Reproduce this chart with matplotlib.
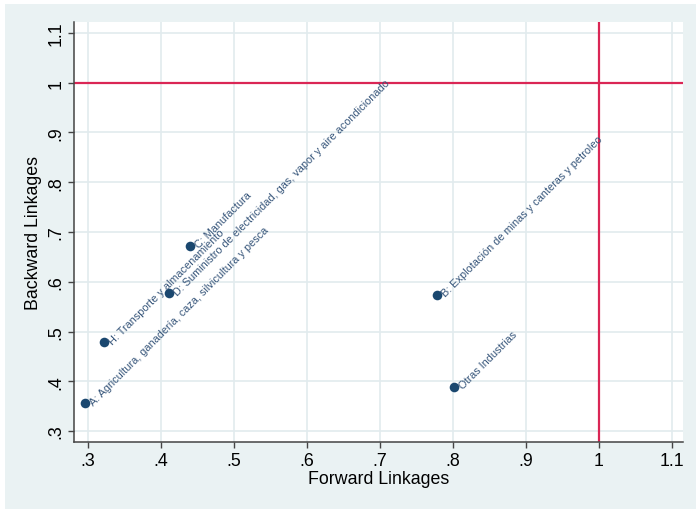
import matplotlib.pyplot as plt
from matplotlib.patches import Rectangle

plt.rcParams['font.family'] = ['Liberation Sans', 'DejaVu Sans']

# sectores: forward / backward linkages
sectores = [
    "A: Agricultura, ganadería, caza, silvicultura y pesca",
    "H: Transporte y almacenamiento",
    "D: Suministro de electricidad, gas, vapor y aire acondicionado",
    "C: Manufactura",
    "B: Explotación de minas y canteras y petroleo",
    "Otras Industrias",
]
forward = [0.296, 0.322, 0.411, 0.440, 0.778, 0.801]
backward = [0.356, 0.479, 0.577, 0.672, 0.574, 0.389]

xticks = [0.3, 0.4, 0.5, 0.6, 0.7, 0.8, 0.9, 1.0, 1.1]
xtick_labels = [".3", ".4", ".5", ".6", ".7", ".8", ".9", "1", "1.1"]
yticks = [0.3, 0.4, 0.5, 0.6, 0.7, 0.8, 0.9, 1.0, 1.1]
ytick_labels = [".3", ".4", ".5", ".6", ".7", ".8", ".9", "1", "1.1"]

fondo = "#EAF2F3"
azul = "#1A476F"
rojo = "#DA2655"

fig = plt.figure(figsize=(6.96, 5.10), dpi=100)
fig.patch.set_facecolor("white")
fig.patches.append(Rectangle((5 / 696, 0), 1, 1 - 5 / 510, transform=fig.transFigure,
                             facecolor=fondo, edgecolor="none", zorder=-10))

ax = fig.add_axes([74 / 696, 67 / 510, 609 / 696, 420 / 510])
ax.set_facecolor("white")

ax.set_xlim(0.281, 1.115)
ax.set_ylim(0.278, 1.122)

ax.grid(True, color="#E2EBEE", linewidth=1.2)
ax.set_axisbelow(True)

ax.axhline(1.0, color=rojo, linewidth=1.6, zorder=2)
ax.axvline(1.0, color=rojo, linewidth=1.6, zorder=2)

ax.scatter(forward, backward, s=48, color=azul, zorder=3, linewidths=0)
for nombre, x, y in zip(sectores, forward, backward):
    ax.annotate(nombre, (x, y), xytext=(5, 0), textcoords="offset points",
                rotation=45, rotation_mode="anchor", ha="left", va="center",
                fontsize=7.8, color="#36557A", zorder=4)

ax.set_xticks(xticks)
ax.set_xticklabels(xtick_labels)
ax.set_yticks(yticks)
ax.set_yticklabels(ytick_labels, rotation=90, va="center")
ax.tick_params(axis="both", labelsize=12.8, length=4, width=1, color="#444444", pad=3)

for lado in ["top", "right"]:
    ax.spines[lado].set_visible(False)
for lado in ["left", "bottom"]:
    ax.spines[lado].set_color("#444444")
    ax.spines[lado].set_linewidth(1.1)

ax.set_xlabel("Forward Linkages", fontsize=12.8, labelpad=1)
ax.set_ylabel("Backward Linkages", fontsize=12.8, labelpad=4)

fig.savefig("out.png", dpi=100, facecolor=fig.get_facecolor())
